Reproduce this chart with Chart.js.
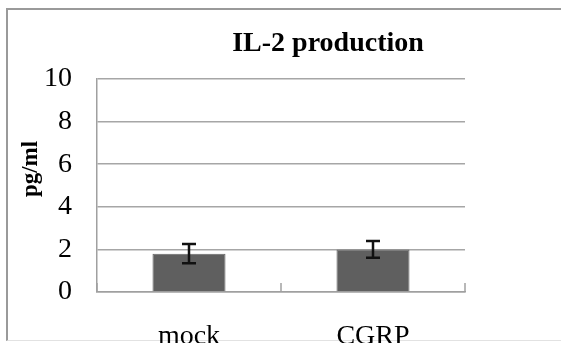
<!DOCTYPE html>
<html><head><meta charset="utf-8">
<script src="https://cdn.jsdelivr.net/npm/chart.js@4"></script>
<style>
html,body{margin:0;padding:0;background:#fff;}
#wrap{position:relative;width:561px;height:343px;overflow:hidden;background:#fff;}
#frame{position:absolute;left:6px;top:8px;width:553px;height:330px;border-left:2px solid #9a9a9a;border-top:2px solid #9a9a9a;border-bottom:1px solid #e2e2e2;border-right:1px solid #ececec;}
#c{position:absolute;left:0;top:0;}
</style></head><body>
<div id="wrap">
<div id="frame"></div>
<canvas id="c" width="656" height="343"></canvas>
</div>
<script>
const categories = ['mock', 'CGRP'];
const values = [1.8, 2.0];
const errors = [0.45, 0.39];
const yTicks = [0, 2, 4, 6, 8, 10];
const yTitle = 'pg/ml';

const serif = '"Liberation Serif", "Times New Roman", serif';

const extrasPlugin = {
  id: 'extras',
  afterDatasetsDraw(chart) {
    const ctx = chart.ctx;
    const x = chart.scales.x, y = chart.scales.y;
    ctx.save();
    // inner tick marks on x axis at category boundaries
    ctx.strokeStyle = '#a0a0a0';
    ctx.lineWidth = 1.5;
    for (let i = 0; i <= categories.length; i++) {
      const px = x.getPixelForValue(i - 0.5);
      ctx.beginPath();
      ctx.moveTo(px, y.bottom);
      ctx.lineTo(px, y.bottom - 9);
      ctx.stroke();
    }
    // error bars
    ctx.strokeStyle = '#111';
    ctx.lineWidth = 2.5;
    const cap = 7;
    values.forEach((v, i) => {
      const px = x.getPixelForValue(i);
      const top = y.getPixelForValue(v + errors[i]);
      const bot = y.getPixelForValue(v - errors[i]);
      ctx.beginPath();
      ctx.moveTo(px, top); ctx.lineTo(px, bot);
      ctx.moveTo(px - cap, top); ctx.lineTo(px + cap, top);
      ctx.moveTo(px - cap, bot); ctx.lineTo(px + cap, bot);
      ctx.stroke();
    });
    // y axis title
    ctx.translate(31, 169);
    ctx.rotate(-Math.PI / 2);
    ctx.fillStyle = '#000';
    ctx.font = 'bold 23px ' + serif;
    ctx.textAlign = 'center';
    ctx.textBaseline = 'middle';
    ctx.fillText(yTitle, 0, 0);
    ctx.restore();
  }
};

new Chart(document.getElementById('c'), {
  type: 'bar',
  data: {
    labels: categories,
    datasets: [{
      data: values,
      backgroundColor: '#5f5f5f',
      borderColor: '#666',
      borderWidth: 1,
      barPercentage: 0.397,
      categoryPercentage: 1
    }]
  },
  options: {
    responsive: false,
    animation: false,
    layout: { padding: 0 },
    plugins: {
      legend: { display: false },
      tooltip: { enabled: false },
      title: {
        display: true,
        text: 'IL-2 production',
        color: '#000',
        font: { family: serif, size: 28, weight: 'bold', lineHeight: 1.2 },
        padding: { top: 27, bottom: 18.4 }
      }
    },
    scales: {
      x: {
        grid: { color: 'rgba(0,0,0,0)', drawTicks: false },
        border: { color: '#a0a0a0', width: 1.5 },
        ticks: { color: '#000', font: { family: serif, size: 28 }, padding: 28 },
        afterFit(s) { s.height = 51; }
      },
      y: {
        min: 0, max: 10,
        afterBuildTicks(s) { s.ticks = yTicks.map(v => ({ value: v })); },
        grid: { color: '#a6a6a6', lineWidth: 1.5, drawTicks: false },
        border: { color: '#a0a0a0', width: 1.5 },
        ticks: { color: '#000', font: { family: serif, size: 28 }, padding: 25 },
        afterFit(s) { s.width = 97; }
      },
      y2: {
        position: 'right',
        display: true,
        grid: { display: false, drawTicks: false },
        border: { display: false },
        ticks: { display: false },
        afterFit(s) { s.width = 191; }
      }
    }
  },
  plugins: [extrasPlugin]
});
</script>
</body></html>
